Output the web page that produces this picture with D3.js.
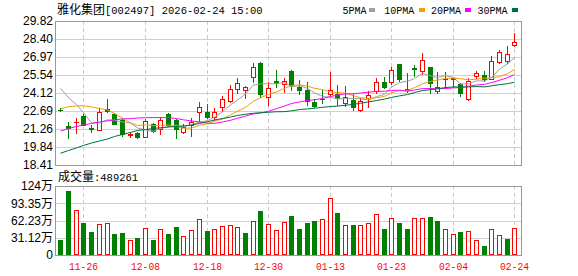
<!DOCTYPE html>
<html>
<head>
<meta charset="utf-8">
<script src="https://cdn.jsdelivr.net/npm/d3@7"></script>
<style>
  body { margin: 0; background: #fff; }
  svg { display: block; }
</style>
</head>
<body>
<script>
const width = 578, height = 276;
const priceBox = { top: 21, bottom: 165, left: 55, right: 522 };
const volBox = { top: 186, bottom: 255, left: 55, right: 522 };

// trading days shown
const dates = ["11-21","11-24","11-25","11-26","11-27","11-28","12-01","12-02","12-03","12-04",
  "12-05","12-08","12-09","12-10","12-11","12-12","12-15","12-16","12-17","12-18",
  "12-19","12-22","12-23","12-24","12-25","12-26","12-29","12-30","12-31","01-05",
  "01-06","01-07","01-08","01-09","01-12","01-13","01-14","01-15","01-16","01-19",
  "01-20","01-21","01-22","01-23","01-26","01-27","01-28","01-29","01-30","02-02",
  "02-03","02-04","02-05","02-06","02-09","02-10","02-11","02-12","02-13","02-24"];

const opens = [22.77, 21.52, 21.78, 22.31, 21.32, 21.22, 22.82, 22.43, 21.98, 20.82,
  20.91, 20.65, 21.64, 21.24, 22.43, 21.98, 21.05, 21.60, 22.63, 22.63,
  22.24, 23.03, 23.48, 24.47, 24.35, 25.41, 26.53, 23.82, 25.07, 24.80,
  25.86, 24.61, 24.35, 23.43, 23.63, 24.04, 24.04, 23.30, 23.56, 22.79,
  23.72, 24.26, 25.01, 25.01, 26.44, 24.35, 26.07, 25.86, 26.15, 24.25,
  25.20, 25.23, 24.81, 23.64, 25.49, 25.53, 25.26, 26.57, 26.67, 27.88];
const closes = [22.73, 21.38, 21.83, 21.60, 21.26, 22.61, 22.67, 21.66, 20.87, 20.89,
  20.63, 21.90, 21.10, 21.98, 21.58, 21.24, 21.40, 21.79, 22.98, 22.21,
  22.59, 23.64, 24.43, 24.88, 24.61, 26.21, 24.00, 24.55, 24.88, 25.03,
  24.65, 24.35, 23.48, 23.09, 23.61, 24.33, 23.68, 23.76, 23.03, 23.46,
  23.93, 24.97, 24.61, 25.94, 25.26, 24.45, 26.03, 26.73, 24.91, 24.57,
  25.25, 25.28, 24.08, 25.07, 25.70, 25.22, 26.65, 27.35, 27.21, 28.16];
const highs = [22.95, 21.78, 22.17, 22.43, 21.58, 22.90, 23.64, 22.51, 22.11, 21.05,
  21.00, 22.06, 21.71, 22.24, 22.51, 22.06, 21.66, 22.16, 23.40, 23.24,
  22.90, 23.88, 24.75, 25.28, 24.65, 26.49, 26.61, 24.99, 25.94, 25.30,
  25.94, 25.11, 25.01, 23.62, 24.35, 25.80, 24.75, 24.65, 24.04, 23.72,
  24.27, 25.30, 25.36, 26.20, 26.45, 25.72, 26.36, 27.28, 26.18, 25.76,
  25.78, 25.30, 24.88, 25.34, 25.82, 25.82, 27.01, 27.52, 27.80, 28.87];
const lows = [22.66, 20.53, 20.97, 21.54, 21.06, 21.18, 22.61, 21.62, 20.67, 20.61,
  20.53, 20.63, 21.05, 20.87, 21.50, 20.53, 20.97, 20.73, 21.90, 22.11,
  21.98, 22.71, 23.40, 24.09, 23.70, 24.99, 23.80, 23.16, 24.57, 24.19,
  24.33, 24.01, 23.16, 22.98, 23.30, 23.88, 23.16, 23.09, 22.73, 22.71,
  23.01, 24.15, 24.53, 24.80, 25.07, 24.23, 25.46, 25.62, 24.08, 24.08,
  24.51, 24.59, 23.86, 23.56, 25.30, 25.03, 25.19, 26.48, 26.53, 27.80];
// volume in 万手
const volumes = [27, 116, 81, 58, 42, 56, 58, 38, 40, 27,
  31, 49, 27, 47, 38, 51, 34, 45, 65, 43,
  47, 52, 54, 50, 40, 61, 80, 56, 45, 60,
  71, 47, 58, 61, 65, 103, 76, 54, 54, 54,
  58, 74, 47, 66, 58, 47, 66, 66, 68, 61,
  46, 38, 41, 43, 27, 16, 46, 36, 29, 48.9261];
const prevClose = 24.9; // close of the day before 11-21

// moving average values before a full window is on screen
const ma5Head = [24.49, 23.74, 23.20, 22.55];
const ma10Head = [22.85, 23.03, 23.09, 23.10, 23.01, 22.89, 22.77, 22.49, 22.11];
const ma20Head = [21.10, 21.30, 21.46, 21.58, 21.70, 21.82, 21.91, 21.99, 22.06, 22.09,
  22.13, 22.16, 22.17, 22.17, 22.16, 22.09, 21.99, 21.90, 21.82];
const ma30Head = [19.34, 19.56, 19.76, 19.96, 20.15, 20.31, 20.47, 20.67, 20.83, 20.99,
  21.14, 21.22, 21.30, 21.37, 21.42, 21.46, 21.50, 21.58, 21.70, 21.84,
  21.98, 22.09, 22.21, 22.33, 22.43, 22.51, 22.55, 22.59, 22.63];

const priceTicks = [29.82, 28.40, 26.97, 25.54, 24.12, 22.69, 21.26, 19.84, 18.41];
const volTicks = [124.47, 93.35, 62.23, 31.12, 0];
const volTickLabels = ["124万", "93.35万", "62.23万", "31.12万", "0"];
const dateLabels = ["11-26", "12-08", "12-18", "12-30", "01-13", "01-23", "02-04", "02-24"];

const maNames = ["5PMA", "10PMA", "20PMA", "30PMA"];
const maColors = ["#a0a0a0", "#f0a000", "#ff00ff", "#00703a"];

const RED = "#ff0000", GREEN = "#008000";
const MONO = "'Liberation Mono', 'DejaVu Sans Mono', monospace";
const CJK = "'Noto Sans CJK SC', sans-serif";

const svg = d3.select("body")
  .append("svg")
  .attr("width", width)
  .attr("height", height);

svg.append("rect").attr("width", width).attr("height", height).attr("fill", "#fff");

const x = d3.scaleBand().domain(dates).range([56.5, 518.2]);
const y = d3.scaleLinear().domain([18.41, 29.82]).range([priceBox.bottom, priceBox.top]);
const yv = d3.scaleLinear().domain([0, 124.47]).range([volBox.bottom, volBox.top]);
const cx = (d) => Math.round(x(d) + x.bandwidth() / 2);

const candles = dates.map((d, i) => ({
  date: d, open: opens[i], close: closes[i], high: highs[i], low: lows[i],
  vol: volumes[i], prev: i === 0 ? prevClose : closes[i - 1]
}));

function movingAverage(period, head) {
  return closes.map((c, i) => {
    if (i < period - 1) return head[i];
    return d3.mean(closes.slice(i - period + 1, i + 1));
  });
}

function createGrid() {
  const g = svg.append("g");
  g.selectAll(".hp").data(priceTicks).join("line")
    .attr("x1", priceBox.left).attr("x2", priceBox.right)
    .attr("y1", (d) => Math.round(y(d)) + 0.5).attr("y2", (d) => Math.round(y(d)) + 0.5)
    .attr("stroke", "#d0d0d0");
  g.selectAll(".hv").data(volTicks).join("line")
    .attr("x1", volBox.left).attr("x2", volBox.right)
    .attr("y1", (d) => Math.round(yv(d)) + 0.5).attr("y2", (d) => Math.round(yv(d)) + 0.5)
    .attr("stroke", "#d0d0d0");
  [priceBox, volBox].forEach((b) => {
    g.append("g").selectAll("line").data(dateLabels).join("line")
      .attr("x1", (d) => cx(d) + 0.5).attr("x2", (d) => cx(d) + 0.5)
      .attr("y1", b.top).attr("y2", b.bottom)
      .attr("stroke", "#cccccc")
      .attr("stroke-dasharray", "4,3");
  });
}

function createAxis() {
  svg.append("g").selectAll("text").data(priceTicks).join("text")
    .attr("x", 53).attr("y", (d) => y(d)).attr("dy", "0.36em")
    .attr("text-anchor", "end")
    .attr("font-family", "'Liberation Sans', Arial, sans-serif")
    .attr("font-size", 12).attr("fill", "#000")
    .text((d) => d.toFixed(2));

  svg.append("g").selectAll("text").data(volTicks).join("text")
    .attr("x", 53).attr("y", (d) => yv(d)).attr("dy", "0.36em")
    .attr("text-anchor", "end")
    .attr("font-family", "'Liberation Sans', 'Noto Sans CJK SC', sans-serif")
    .attr("font-size", 12).attr("fill", "#000")
    .text((d, i) => volTickLabels[i]);

  svg.append("g").selectAll("text").data(dateLabels).join("text")
    .attr("x", (d) => cx(d) + 0.5).attr("y", 270)
    .attr("text-anchor", "middle")
    .attr("font-family", MONO).attr("font-size", 11)
    .attr("textLength", 29).attr("lengthAdjust", "spacingAndGlyphs")
    .attr("fill", RED)
    .text((d) => d);
}

function createCandles() {
  const g = svg.append("g");
  candles.forEach((d) => {
    const col0 = cx(d.date) - 2;
    const up = d.close >= d.open;
    const color = up ? RED : GREEN;
    const top = Math.round(y(Math.max(d.open, d.close)));
    const bot = Math.round(y(Math.min(d.open, d.close)));
    const yh = Math.round(y(d.high)), yl = Math.round(y(d.low));
    g.append("rect").attr("x", col0 + 2).attr("y", yh)
      .attr("width", 1).attr("height", yl - yh + 1).attr("fill", color);
    if (bot - top < 2) {
      g.append("rect").attr("x", col0).attr("y", top).attr("width", 5)
        .attr("height", Math.max(1, bot - top + 1)).attr("fill", color);
    } else if (up) {
      g.append("rect").attr("x", col0 + 0.5).attr("y", top + 0.5)
        .attr("width", 4).attr("height", bot - top)
        .attr("fill", "#fff").attr("stroke", color);
    } else {
      g.append("rect").attr("x", col0).attr("y", top)
        .attr("width", 5).attr("height", bot - top + 1).attr("fill", color);
    }
  });
}

function createVolume() {
  const g = svg.append("g");
  candles.forEach((d) => {
    const col0 = cx(d.date) - 2;
    const top = Math.round(yv(d.vol));
    if (d.close >= d.prev) {
      g.append("rect").attr("x", col0 + 0.5).attr("y", top + 0.5)
        .attr("width", 4).attr("height", volBox.bottom - 1 - top)
        .attr("fill", "#fff").attr("stroke", RED);
    } else {
      g.append("rect").attr("x", col0).attr("y", top)
        .attr("width", 5).attr("height", volBox.bottom - top).attr("fill", GREEN);
    }
  });
}

function createMA() {
  const series = [movingAverage(5, ma5Head), movingAverage(10, ma10Head),
    movingAverage(20, ma20Head), movingAverage(30, ma30Head)];
  const line = d3.line()
    .x((v, i) => cx(dates[i]) + 0.5)
    .y((v) => y(v));
  series.forEach((s, k) => {
    svg.append("path").datum(s)
      .attr("d", line)
      .attr("fill", "none")
      .attr("stroke", maColors[k])
      .attr("stroke-width", 1);
  });
}

function createFrame() {
  [priceBox, volBox].forEach((b) => {
    svg.append("rect")
      .attr("x", b.left + 0.5).attr("y", b.top + 0.5)
      .attr("width", b.right - b.left - 1).attr("height", b.bottom - b.top)
      .attr("fill", "none").attr("stroke", "#999");
  });
}

function createTitle() {
  const t = svg.append("text").attr("x", 57).attr("y", 14).attr("fill", "#000");
  t.append("tspan").attr("font-family", CJK).attr("font-size", 12).text("雅化集团");
  t.append("tspan").attr("font-family", MONO).attr("font-size", 10.5)
    .text("[002497] 2026-02-24 15:00");

  const legX = [342.5, 384.3, 431, 477.6];
  const boxX = [369, 418.7, 464.6, 512];
  maNames.forEach((name, k) => {
    svg.append("text").attr("x", legX[k]).attr("y", 14)
      .attr("font-family", MONO).attr("font-size", 10.5)
      .attr("textLength", name.length * 6).attr("lengthAdjust", "spacingAndGlyphs")
      .attr("fill", "#000").text(name);
    svg.append("rect").attr("x", Math.round(boxX[k])).attr("y", 8)
      .attr("width", 6).attr("height", 4).attr("fill", maColors[k]);
  });

  const v = svg.append("text").attr("x", 58).attr("y", 181).attr("fill", "#000");
  v.append("tspan").attr("font-family", CJK).attr("font-size", 12).text("成交量");
  v.append("tspan").attr("font-family", MONO).attr("font-size", 10.5)
    .text(":" + Math.round(volumes[volumes.length - 1] * 10000));
}

createGrid();
createAxis();
createCandles();
createMA();
createVolume();
createFrame();
createTitle();
</script>
</body>
</html>
